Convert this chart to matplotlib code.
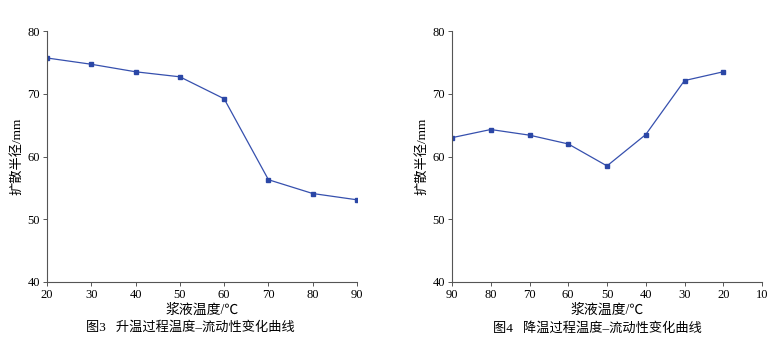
import matplotlib.pyplot as plt

# data
temp_up = [20, 30, 40, 50, 60, 70, 80, 90]
radius_up = [75.7, 74.7, 73.5, 72.7, 69.2, 56.3, 54.1, 53.1]

temp_down = [90, 80, 70, 60, 50, 40, 30, 20]
radius_down = [63.0, 64.3, 63.4, 62.0, 58.5, 63.5, 72.1, 73.5]

fonts = ['Liberation Serif', 'Noto Sans CJK SC']
plt.rcParams['font.family'] = fonts

line_color = '#3650ae'
axis_color = '#555555'

W, H = 780, 359
fig = plt.figure(figsize=(W / 100, H / 100), dpi=100)

ax1 = fig.add_axes([47 / W, (H - 282) / H, 310 / W, 251 / H])
ax2 = fig.add_axes([452 / W, (H - 282) / H, 310 / W, 251 / H])


def style(ax):
    for side in ['top', 'right']:
        ax.spines[side].set_visible(False)
    for side in ['left', 'bottom']:
        ax.spines[side].set_color(axis_color)
        ax.spines[side].set_linewidth(0.8)
    ax.tick_params(direction='out', length=3, width=0.7, color=axis_color,
                   labelsize=9, pad=2)
    ax.set_ylim(40, 80)
    ax.set_yticks([40, 50, 60, 70, 80])
    ax.set_ylabel('扩散半径/mm', fontsize=9.5, labelpad=3)
    ax.set_xlabel('浆液温度/℃', fontsize=10, labelpad=2)


ax1.plot(temp_up, radius_up, color=line_color, lw=0.9, marker='s',
         markersize=3.5, markerfacecolor='#2b47a6', markeredgecolor='#2b47a6')
ax1.set_xlim(20, 90)
ax1.set_xticks(temp_up)
style(ax1)

ax2.plot(temp_down, radius_down, color=line_color, lw=0.9, marker='s',
         markersize=3.5, markerfacecolor='#2b47a6', markeredgecolor='#2b47a6')
ax2.set_xlim(90, 10)
ax2.set_xticks([90, 80, 70, 60, 50, 40, 30, 20, 10])
style(ax2)

fig.text(190 / W, 1 - 328 / H, '图3   升温过程温度–流动性变化曲线',
         ha='center', va='center', fontsize=9.5)
fig.text(597 / W, 1 - 328 / H, '图4   降温过程温度–流动性变化曲线',
         ha='center', va='center', fontsize=9.5)

fig.savefig('out.png', dpi=100)
